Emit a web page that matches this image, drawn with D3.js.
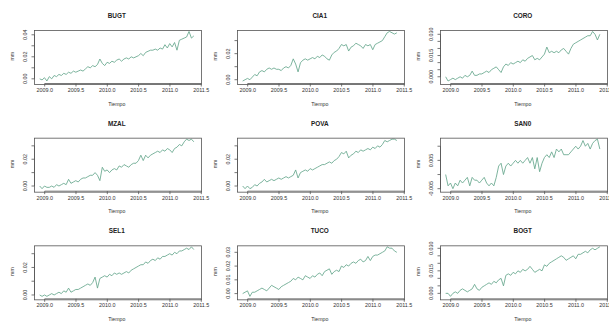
<!DOCTYPE html>
<html>
<head>
<meta charset="utf-8">
<script src="https://cdn.jsdelivr.net/npm/d3@7"></script>
<style>
  html, body { margin: 0; padding: 0; background: #fff; }
  svg { display: block; font-family: "Liberation Sans", Arial, sans-serif; }
</style>
</head>
<body>
<div id="chart"></div>
<script>
// Weekly-ish GPS displacement series, one panel per station
const stations = ['BUGT', 'CIA1', 'CORO', 'MZAL', 'POVA', 'SAN0', 'SEL1', 'TUCO', 'BOGT'];
const tStart = 2008.92;   // first sample (decimal year)
const tFreq = 26;         // samples per year
const xTicks = [2009.0, 2009.5, 2010.0, 2010.5, 2011.0, 2011.5];

// y tick spacing, how often a tick gets a label, and decimals of the labels
const yTickStep   = [0.01, 0.01, 0.005, 0.01, 0.01, 0.005, 0.01, 0.01, 0.005];
const yLabelEvery = [2, 2, 3, 2, 2, 2, 2, 1, 3];
const yDecimals   = [2, 2, 3, 2, 2, 3, 2, 2, 3];

const bugt = [0.000, -0.001, 0.001, -0.002, 0.002, 0.000, 0.003, 0.002, 0.004, 0.003,
  0.005, 0.004, 0.006, 0.005, 0.007, 0.006, 0.007, 0.008, 0.007, 0.009,
  0.011, 0.010, 0.012, 0.011, 0.013, 0.018, 0.014, 0.012, 0.015, 0.014,
  0.016, 0.015, 0.017, 0.018, 0.016, 0.018, 0.019, 0.018, 0.020, 0.019,
  0.020, 0.021, 0.023, 0.021, 0.024, 0.025, 0.026, 0.026, 0.027, 0.026,
  0.028, 0.027, 0.031, 0.028, 0.032, 0.029, 0.033, 0.026, 0.035, 0.036,
  0.037, 0.038, 0.043, 0.037, 0.039];
const cia1 = [-0.001, 0.000, 0.001, 0.000, 0.002, 0.004, 0.003, 0.006, 0.007, 0.006,
  0.008, 0.009, 0.008, 0.009, 0.008, 0.008, 0.007, 0.009, 0.010, 0.009,
  0.011, 0.016, 0.012, 0.006, 0.013, 0.015, 0.016, 0.015, 0.016, 0.017,
  0.016, 0.018, 0.017, 0.019, 0.018, 0.016, 0.015, 0.019, 0.021, 0.022,
  0.024, 0.027, 0.026, 0.027, 0.022, 0.025, 0.026, 0.028, 0.027, 0.026,
  0.024, 0.027, 0.026, 0.027, 0.023, 0.027, 0.028, 0.029, 0.030, 0.033,
  0.036, 0.037, 0.036, 0.035, 0.036];
const coro = [0.000, -0.003, -0.002, -0.001, -0.002, -0.001, 0.000, -0.001, 0.001, 0.000,
  0.001, 0.004, 0.001, 0.001, 0.002, 0.002, 0.003, 0.004, 0.003, 0.005,
  0.006, 0.007, 0.005, 0.003, 0.007, 0.009, 0.008, 0.010, 0.009, 0.010,
  0.011, 0.010, 0.012, 0.011, 0.013, 0.014, 0.015, 0.012, 0.013, 0.012,
  0.014, 0.016, 0.021, 0.017, 0.018, 0.017, 0.018, 0.017, 0.019, 0.020,
  0.018, 0.016, 0.020, 0.023, 0.024, 0.025, 0.026, 0.027, 0.028, 0.029,
  0.029, 0.032, 0.030, 0.026, 0.030];
const mzal = [0.000, -0.002, 0.000, -0.001, -0.001, 0.000, -0.001, 0.001, 0.000, 0.001,
  0.002, 0.001, 0.005, 0.002, 0.003, 0.004, 0.003, 0.005, 0.006, 0.006,
  0.007, 0.008, 0.008, 0.010, 0.008, 0.004, 0.014, 0.011, 0.012, 0.010,
  0.012, 0.013, 0.012, 0.015, 0.014, 0.016, 0.015, 0.014, 0.016, 0.017,
  0.017, 0.019, 0.023, 0.019, 0.023, 0.021, 0.023, 0.024, 0.025, 0.026,
  0.025, 0.027, 0.026, 0.028, 0.027, 0.025, 0.028, 0.029, 0.031, 0.030,
  0.033, 0.035, 0.034, 0.035, 0.033];
const pova = [0.000, -0.002, 0.000, -0.002, -0.001, 0.001, 0.000, 0.002, 0.003, 0.005,
  0.003, 0.004, 0.005, 0.004, 0.005, 0.006, 0.005, 0.006, 0.007, 0.006,
  0.007, 0.008, 0.012, 0.006, 0.010, 0.011, 0.012, 0.011, 0.013, 0.012,
  0.013, 0.014, 0.015, 0.016, 0.016, 0.017, 0.018, 0.017, 0.019, 0.020,
  0.022, 0.025, 0.024, 0.026, 0.021, 0.023, 0.024, 0.026, 0.025, 0.027,
  0.026, 0.027, 0.028, 0.027, 0.029, 0.028, 0.030, 0.029, 0.031, 0.034,
  0.033, 0.034, 0.035, 0.035, 0.034];
const san0 = [0.000, -0.004, -0.003, -0.005, -0.003, -0.004, -0.002, -0.003, -0.002, -0.001,
  -0.004, -0.001, -0.002, -0.002, -0.003, -0.002, -0.001, -0.003, -0.004, -0.003,
  -0.004, -0.001, 0.003, 0.004, 0.000, 0.003, 0.004, 0.003, 0.004, 0.005,
  0.004, 0.005, 0.004, 0.005, 0.006, 0.004, 0.006, 0.002, 0.006, 0.001,
  0.004, 0.006, 0.007, 0.006, 0.008, 0.006, 0.009, 0.008, 0.009, 0.007,
  0.007, 0.007, 0.008, 0.009, 0.010, 0.009, 0.010, 0.012, 0.010, 0.011,
  0.009, 0.011, 0.012, 0.0125, 0.009];
const sel1 = [0.000, -0.001, 0.000, -0.001, 0.000, 0.001, 0.000, 0.001, 0.002, 0.001,
  0.003, 0.002, 0.005, 0.002, 0.003, 0.004, 0.004, 0.005, 0.006, 0.007,
  0.008, 0.007, 0.009, 0.013, 0.005, 0.012, 0.013, 0.014, 0.013, 0.015,
  0.014, 0.016, 0.015, 0.016, 0.015, 0.016, 0.017, 0.016, 0.018, 0.019,
  0.020, 0.021, 0.022, 0.022, 0.024, 0.023, 0.025, 0.026, 0.025, 0.027,
  0.026, 0.028, 0.028, 0.029, 0.030, 0.029, 0.031, 0.030, 0.032, 0.032,
  0.033, 0.034, 0.033, 0.035, 0.033];
const tuco = [0.000, 0.001, 0.002, -0.002, 0.001, 0.001, 0.002, 0.003, 0.004, 0.003,
  0.002, 0.004, 0.006, 0.005, 0.004, 0.003, 0.005, 0.006, 0.007, 0.008,
  0.009, 0.011, 0.010, 0.012, 0.011, 0.010, 0.013, 0.012, 0.011, 0.013,
  0.012, 0.014, 0.015, 0.013, 0.016, 0.017, 0.018, 0.014, 0.016, 0.017,
  0.016, 0.020, 0.019, 0.021, 0.020, 0.022, 0.023, 0.022, 0.024, 0.025,
  0.023, 0.024, 0.027, 0.024, 0.027, 0.028, 0.028, 0.029, 0.030, 0.031,
  0.034, 0.033, 0.033, 0.031, 0.030];
const bogt = [0.000, 0.000, -0.002, 0.000, 0.001, 0.000, 0.002, 0.003, 0.002, 0.001,
  0.002, 0.003, 0.006, 0.003, 0.002, 0.004, 0.005, 0.006, 0.007, 0.006,
  0.008, 0.007, 0.009, 0.010, 0.005, 0.012, 0.013, 0.012, 0.014, 0.013,
  0.015, 0.014, 0.016, 0.015, 0.016, 0.018, 0.016, 0.014, 0.015, 0.016,
  0.015, 0.019, 0.018, 0.020, 0.021, 0.022, 0.023, 0.024, 0.025, 0.024,
  0.022, 0.023, 0.024, 0.025, 0.023, 0.026, 0.026, 0.027, 0.028, 0.027,
  0.029, 0.030, 0.029, 0.030, 0.031];

const seriesList = [bugt, cia1, coro, mzal, pova, san0, sel1, tuco, bogt];

const W = 609, H = 323;
const panelW = W / 3, panelH = H / 3;
const box = { left: 33.5, right: 200, top: 29.5, bottom: 83 };
const lineColor = '#66a78c';
const axisColor = '#555';
const textColor = '#333';

const svg = d3.select('#chart').append('svg')
  .attr('width', W)
  .attr('height', H);

// R-style range: data extent padded by 4% each side
function padExtent(vals) {
  const [a, b] = d3.extent(vals);
  const p = (b - a) * 0.04;
  return [a - p, b + p];
}

seriesList.forEach((vals, k) => {
  const col = k % 3, row = Math.floor(k / 3);
  const g = svg.append('g')
    .attr('transform', `translate(${col * panelW},${row * panelH})`);

  const data = vals.map((v, i) => ({ t: tStart + i / tFreq, v }));

  const x = d3.scaleLinear()
    .domain(padExtent(data.map(d => d.t)))
    .range([box.left, box.right]);
  const y = d3.scaleLinear()
    .domain(padExtent(vals))
    .range([box.bottom, box.top]);

  // series line
  g.append('path')
    .datum(data)
    .attr('fill', 'none')
    .attr('stroke', lineColor)
    .attr('stroke-width', 0.85)
    .attr('d', d3.line().x(d => x(d.t)).y(d => y(d.v)));

  // box
  g.append('rect')
    .attr('x', Math.round(box.left) + 0.5)
    .attr('y', Math.round(box.top) + 0.5)
    .attr('width', Math.round(box.right - box.left))
    .attr('height', Math.round(box.bottom - box.top))
    .attr('fill', 'none')
    .attr('stroke', axisColor)
    .attr('stroke-width', 0.8);

  // x axis
  const by = Math.round(box.bottom) + 0.5;
  const xAxis = g.append('g').attr('class', 'x-axis');
  xAxis.append('line')
    .attr('x1', x(xTicks[0])).attr('x2', x(xTicks[xTicks.length - 1]))
    .attr('y1', by).attr('y2', by)
    .attr('stroke', axisColor).attr('stroke-width', 0.8);
  xTicks.forEach(t => {
    xAxis.append('line')
      .attr('x1', x(t)).attr('x2', x(t))
      .attr('y1', by).attr('y2', by + 3)
      .attr('stroke', axisColor).attr('stroke-width', 0.8);
    xAxis.append('text')
      .attr('x', x(t))
      .attr('y', box.bottom + 9)
      .attr('text-anchor', 'middle')
      .attr('font-size', 5.4)
      .attr('fill', textColor)
      .text(t.toFixed(1));
  });

  // y axis
  const step = yTickStep[k];
  const [y0, y1] = y.domain();
  const first = Math.ceil(y0 / step - 1e-9), last = Math.floor(y1 / step + 1e-9);
  const yTicks = d3.range(first, last + 1).map(n => n * step);
  const bx = Math.round(box.left) + 0.5;
  const yAxis = g.append('g').attr('class', 'y-axis');
  yAxis.append('line')
    .attr('x1', bx).attr('x2', bx)
    .attr('y1', y(yTicks[0])).attr('y2', y(yTicks[yTicks.length - 1]))
    .attr('stroke', axisColor).attr('stroke-width', 0.8);
  yTicks.forEach((v, i) => {
    yAxis.append('line')
      .attr('x1', bx - 3).attr('x2', bx)
      .attr('y1', y(v)).attr('y2', y(v))
      .attr('stroke', axisColor).attr('stroke-width', 0.8);
    if (i % yLabelEvery[k] === 0) {
      const lx = box.left - 8, ly = y(v);
      yAxis.append('text')
        .attr('transform', `translate(${lx},${ly}) rotate(-90)`)
        .attr('text-anchor', 'middle')
        .attr('dy', '0.35em')
        .attr('font-size', 5.4)
        .attr('fill', textColor)
        .text(Math.abs(v) < 1e-12 ? (0).toFixed(yDecimals[k]) : v.toFixed(yDecimals[k]));
    }
  });

  // title and axis labels
  const cx = (box.left + box.right) / 2;
  g.append('text')
    .attr('x', cx).attr('y', 18)
    .attr('text-anchor', 'middle')
    .attr('font-size', 6.4)
    .attr('font-weight', 'bold')
    .attr('fill', '#222')
    .text(stations[k]);
  g.append('text')
    .attr('x', cx).attr('y', 105.5)
    .attr('text-anchor', 'middle')
    .attr('font-size', 5.2)
    .attr('fill', textColor)
    .text('Tiempo');
  g.append('text')
    .attr('transform', `translate(${12.5},${(box.top + box.bottom) / 2}) rotate(-90)`)
    .attr('text-anchor', 'middle')
    .attr('dy', '0.35em')
    .attr('font-size', 5.2)
    .attr('fill', textColor)
    .text('mm');
});
</script>
</body>
</html>
